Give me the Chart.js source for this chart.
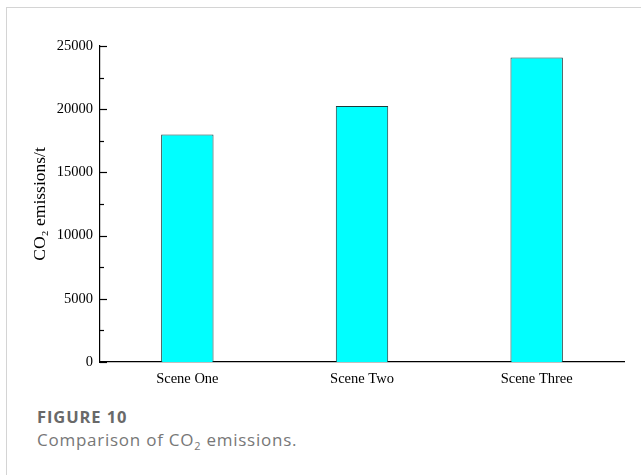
<!DOCTYPE html>
<html>
<head>
<meta charset="utf-8">
<script src="https://cdn.jsdelivr.net/npm/chart.js@4.4.1/dist/chart.umd.min.js"></script>
<style>
    body { margin: 0; background: #fff; }
    .frame {
        position: absolute; left: 6px; top: 7px; right: 0; bottom: 0;
        border-left: 1px solid #d4d4d4; border-top: 1px solid #d4d4d4;
    }
    #wrap { position: absolute; left: 0; top: 0; width: 641px; height: 400px; }
    .caption { position: absolute; left: 37px; top: 406px; font-family: "Open Sans", Lato, sans-serif; }
    .caption .num { font-weight: 700; font-size: 16.5px; line-height: 22px; letter-spacing: 0.9px; color: #696969; }
    .caption .txt { font-size: 17px; line-height: 23px; letter-spacing: 0.75px; color: #777; }
</style>
</head>
<body>
<div class="frame"></div>
<div id="wrap"><canvas id="co2Chart"></canvas></div>
<div class="caption">
    <div class="num">FIGURE 10</div>
    <div class="txt">Comparison of CO<sub style="font-size:11px;line-height:0">2</sub> emissions.</div>
</div>
<script>
// Veriler
var scenes = ['Scene One', 'Scene Two', 'Scene Three'];
var emissions = [18000, 20250, 24100];
var majorTicks = [0, 5000, 10000, 15000, 20000, 25000];
var minorTicks = [2500, 7500, 12500, 17500, 22500];

// iceri bakan tick cizgileri
var innerTicks = {
    id: 'innerTicks',
    afterDraw: function(chart) {
        var y = chart.scales.y;
        var c = chart.ctx;
        var x0 = chart.chartArea.left;
        c.save();
        c.strokeStyle = '#000';
        c.lineWidth = 1.2;
        majorTicks.forEach(function(v) {
            var py = Math.round(y.getPixelForValue(v)) + 0.5;
            c.beginPath(); c.moveTo(x0, py); c.lineTo(x0 + 7, py); c.stroke();
        });
        minorTicks.forEach(function(v) {
            var py = Math.round(y.getPixelForValue(v)) + 0.5;
            c.beginPath(); c.moveTo(x0, py); c.lineTo(x0 + 4, py); c.stroke();
        });
        c.restore();
    }
};

var ctx = document.getElementById('co2Chart').getContext('2d');
var co2Chart = new Chart(ctx, {
    type: 'bar',
    data: {
        labels: scenes,
        datasets: [{
            data: emissions,
            backgroundColor: '#00ffff',
            borderColor: '#1c3c3c',
            borderWidth: 1,
            barPercentage: 0.3,
            categoryPercentage: 1
        }]
    },
    options: {
        responsive: true,
        maintainAspectRatio: false,
        animation: false,
        layout: { padding: { top: 46, right: 17, left: 0, bottom: 0 } },
        plugins: { legend: { display: false }, tooltip: { enabled: false } },
        scales: {
            x: {
                grid: { display: false, drawTicks: false },
                border: { color: '#000', width: 1.2 },
                ticks: { color: '#000', padding: 8, font: { family: 'Liberation Serif', size: 14.5 } },
                afterFit: function(s) { s.height = 38; }
            },
            y: {
                min: 0,
                max: 25000,
                grid: { display: false, drawTicks: false },
                border: { color: '#000', width: 1.2 },
                afterBuildTicks: function(s) { s.ticks = majorTicks.map(function(v) { return { value: v }; }); },
                ticks: {
                    color: '#000', padding: 7,
                    font: { family: 'Liberation Serif', size: 14.5 },
                    callback: function(v) { return String(v); }
                },
                title: {
                    display: true,
                    text: 'CO\u2082 emissions/t',
                    color: '#000',
                    padding: { top: 30, bottom: 0 },
                    font: { family: 'Liberation Serif', size: 17.5 }
                },
                afterFit: function(s) { s.width = 100; }
            }
        }
    },
    plugins: [innerTicks]
});
</script>
</body>
</html>
